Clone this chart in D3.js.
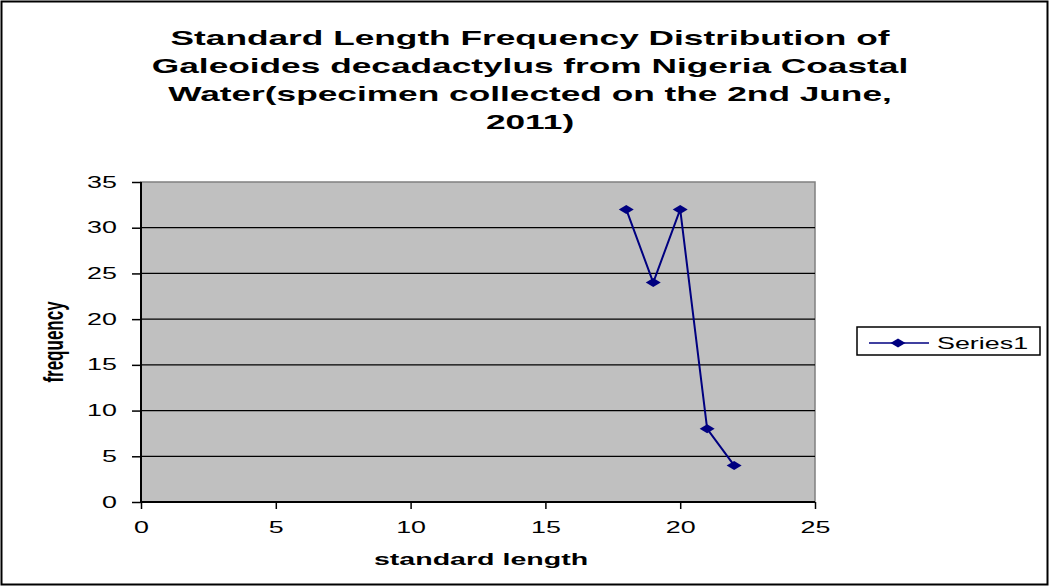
<!DOCTYPE html>
<html>
<head>
<meta charset="utf-8">
<script src="https://cdn.jsdelivr.net/npm/d3@7"></script>
<style>
  body { margin: 0; background: #fff; }
  text { font-family: "Liberation Sans", Arial, sans-serif; }
</style>
</head>
<body>
<svg id="chart" width="1050" height="587"></svg>
<script>
var lengths = [18, 19, 20, 21, 22];
var frequencies = [32, 24, 32, 8, 4];
var xTicks = [0, 5, 10, 15, 20, 25];
var yTicks = [0, 5, 10, 15, 20, 25, 30, 35];
var titleLines = [
  "Standard Length Frequency Distribution of",
  "Galeoides decadactylus from Nigeria Coastal",
  "Water(specimen collected on the 2nd June,",
  "2011)"
];
var seriesName = "Series1";

// the source picture is stretched sideways, so text is widened too
var stretch = 1.68;

var svg = d3.select("#chart");

// outer chart border
svg.append("rect")
    .attr("x", 1.5).attr("y", 1.5)
    .attr("width", 1046).attr("height", 583)
    .attr("fill", "#fff")
    .attr("stroke", "#000")
    .attr("stroke-width", 2);

var plotLeft = 141, plotRight = 815, plotTop = 182, plotBottom = 502;

var x = d3.scaleLinear().domain([0, 25]).range([plotLeft, plotRight]);
var y = d3.scaleLinear().domain([0, 35]).range([plotBottom, plotTop]);

// plot area
svg.append("rect")
    .attr("x", plotLeft).attr("y", plotTop)
    .attr("width", plotRight - plotLeft).attr("height", plotBottom - plotTop)
    .attr("fill", "#c0c0c0")
    .attr("stroke", "#808080")
    .attr("stroke-width", 1.5);

// gridlines
svg.append("g")
  .selectAll("line")
  .data(yTicks.filter(function(d) { return d > 0 && d < 35; }))
  .enter().append("line")
    .attr("x1", plotLeft).attr("x2", plotRight)
    .attr("y1", function(d) { return y(d); })
    .attr("y2", function(d) { return y(d); })
    .attr("stroke", "#000")
    .attr("stroke-width", 1.2);

// axes
var xAxis = svg.append("g")
    .attr("transform", "translate(0," + plotBottom + ")")
    .call(d3.axisBottom(x).tickValues(xTicks).tickSize(7).tickPadding(13));
var yAxis = svg.append("g")
    .attr("transform", "translate(" + plotLeft + ",0)")
    .call(d3.axisLeft(y).tickValues(yTicks).tickSize(9).tickPadding(15));

[xAxis, yAxis].forEach(function(ax) {
  ax.select(".domain").attr("stroke", "#000").attr("stroke-width", 2);
  ax.selectAll(".tick line").attr("stroke", "#000").attr("stroke-width", 1.5);
  ax.selectAll(".tick text")
      .attr("fill", "#000")
      .style("font-family", "'Liberation Sans', Arial, sans-serif")
      .style("font-size", "16px")
      .each(function() {
        var t = d3.select(this);
        var tx = +t.attr("x") || 0, ty = +t.attr("y") || 0;
        t.attr("x", 0).attr("y", 0)
         .attr("transform", "translate(" + tx + "," + ty + ") scale(" + stretch + ",1)");
      });
});
yAxis.select(".domain").attr("d", "M0," + plotBottom + "V" + plotTop);
xAxis.select(".domain").attr("d", "M" + plotLeft + ",0H" + plotRight);

// series line
var points = lengths.map(function(d, i) { return [d, frequencies[i]]; });
var line = d3.line()
    .x(function(d) { return x(d[0]); })
    .y(function(d) { return y(d[1]); });

svg.append("path")
    .datum(points)
    .attr("d", line)
    .attr("fill", "none")
    .attr("stroke", "#000080")
    .attr("stroke-width", 2);

function diamond(cx, cy) {
  return "M" + (cx - 7.5) + "," + cy + "L" + cx + "," + (cy - 4.5) +
         "L" + (cx + 7.5) + "," + cy + "L" + cx + "," + (cy + 4.5) + "Z";
}

svg.append("g")
  .selectAll("path")
  .data(points)
  .enter().append("path")
    .attr("d", function(d) { return diamond(x(d[0]), y(d[1])); })
    .attr("fill", "#000080");

// title
svg.append("g")
  .selectAll("text")
  .data(titleLines)
  .enter().append("text")
    .attr("transform", function(d, i) {
      return "translate(530," + (45 + i * 28) + ") scale(" + stretch + ",1)";
    })
    .attr("text-anchor", "middle")
    .style("font-size", "21px")
    .style("font-weight", "bold")
    .text(function(d) { return d; });

// axis titles
svg.append("text")
    .attr("transform", "translate(481,565) scale(" + stretch + ",1)")
    .attr("text-anchor", "middle")
    .style("font-size", "17px")
    .style("font-weight", "bold")
    .text("standard length");

svg.append("text")
    .attr("transform", "translate(63,342) scale(" + stretch + ",1) rotate(-90)")
    .attr("text-anchor", "middle")
    .style("font-size", "17px")
    .style("font-weight", "bold")
    .text("frequency");

// legend
var legend = svg.append("g");
legend.append("rect")
    .attr("x", 857).attr("y", 327)
    .attr("width", 183).attr("height", 28)
    .attr("fill", "#fff")
    .attr("stroke", "#000")
    .attr("stroke-width", 1.5);
legend.append("line")
    .attr("x1", 869).attr("x2", 929)
    .attr("y1", 343).attr("y2", 343)
    .attr("stroke", "#000080")
    .attr("stroke-width", 1.5);
legend.append("path")
    .attr("d", diamond(898, 343))
    .attr("fill", "#000080");
legend.append("text")
    .attr("transform", "translate(937,349) scale(" + stretch + ",1)")
    .style("font-size", "16px")
    .text(seriesName);
</script>
</body>
</html>
